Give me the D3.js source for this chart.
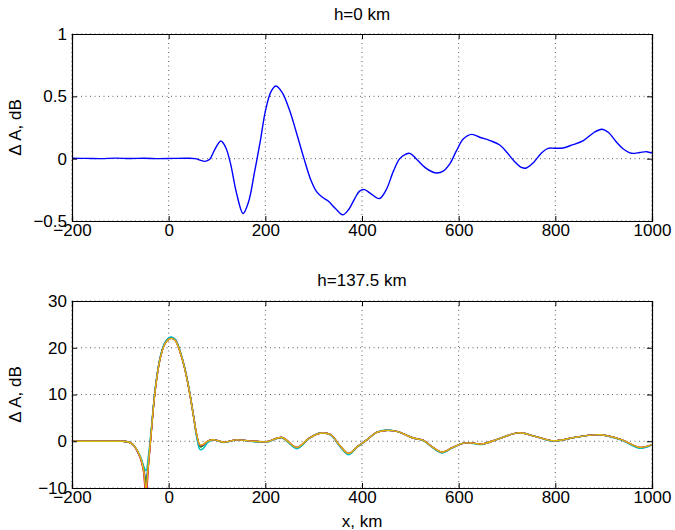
<!DOCTYPE html>
<html><head><meta charset="utf-8">
<script src="https://cdn.jsdelivr.net/npm/d3@7"></script>
<style>body{margin:0;background:#fff;}svg{display:block;font-family:"Liberation Sans",Arial,sans-serif;}</style>
</head><body>
<script>
// ---- data ----
const xTicks = [-200, 0, 200, 400, 600, 800, 1000];
const topYTicks = [-0.5, 0, 0.5, 1];
const botYTicks = [-10, 0, 10, 20, 30];
const topTitle = "h=0 km";
const botTitle = "h=137.5 km";

const topX = [-200,-170,-140,-110,-80,-50,-20,10,40,55,65,75,85,95,108,118,128,140,154,165,178,190,200,212,222,235,250,265,280,295,306,318,330,345,360,372,385,395,405,418,436,450,465,478,490,499,512,530,545,555,568,582,595,610,627,645,665,685,700,715,730,740,755,770,785,800,816,835,858,880,896,910,925,940,958,975,989,1000];
const topY = [0.003,0.002,0.0,0.004,0.001,0.003,0.0,0.002,0.003,0.0,-0.012,-0.022,-0.005,0.07,0.142,0.09,-0.04,-0.27,-0.44,-0.35,-0.1,0.15,0.38,0.54,0.583,0.53,0.39,0.2,0.0,-0.18,-0.265,-0.31,-0.34,-0.4,-0.45,-0.41,-0.32,-0.26,-0.248,-0.28,-0.32,-0.25,-0.1,0.0,0.035,0.043,0.0,-0.07,-0.105,-0.115,-0.1,-0.04,0.06,0.16,0.195,0.17,0.145,0.11,0.05,-0.02,-0.07,-0.075,-0.03,0.04,0.083,0.083,0.086,0.11,0.145,0.21,0.236,0.21,0.14,0.08,0.043,0.05,0.056,0.045];

const botX = [-200,-150,-100,-85,-75,-65,-58,-52,-47,-42,-36,-28,-18,-8,0,6,14,24,34,44,52,58,65,72,82,95,113,141,175,203,234,265,290,313,335,354,372,390,410,430,448,472,506,527,545,565,588,610,630,648,680,723,760,796,845,893,935,975,1000];
const botNames = ["s1","s2","s3","s4","s5","s6"];
const botColors = ["#0000ff","#00a000","#ff0000","#00bfbf","#bf00bf","#d8c000"];
const botS1 = [0,0,0,-0.1,-0.6,-2.0,-3.5,-5.6,-8.5,-4.6,2.2,11.0,17.7,21.0,22.0,22.2,21.7,19.1,15.3,10.1,5.1,1.3,-1.1,-0.8,0.1,0.3,-0.2,0.3,0.0,-0.1,0.8,-1.4,0.6,1.8,1.4,-1.0,-2.7,-1.2,0.3,1.9,2.3,2.1,0.7,0.2,-1.2,-2.4,-1.3,-0.4,-0.4,-0.6,0.4,1.8,1.0,0.1,0.9,1.4,0.4,-1.4,-0.7];
const botS2 = [0,0,0,-0.1,-0.6,-2.0,-3.6,-5.8,-9.2,-4.8,2.1,10.9,17.6,20.9,21.9,22.1,21.6,19.0,15.2,10.0,5.0,1.2,-1.2,-0.9,0.1,0.3,-0.2,0.3,0.0,-0.1,0.8,-1.4,0.6,1.7,1.4,-1.0,-2.7,-1.2,0.3,1.9,2.3,2.1,0.7,0.2,-1.2,-2.4,-1.3,-0.4,-0.4,-0.6,0.4,1.8,1.0,0.1,0.9,1.4,0.4,-1.4,-0.7];
const botS3 = [0,0,0,-0.1,-0.6,-2.1,-3.8,-6.5,-12.5,-5.5,1.8,10.7,17.5,20.8,21.8,22.0,21.5,19.0,15.2,10.0,5.0,1.4,-0.9,-0.7,0.1,0.3,-0.2,0.3,0.0,-0.1,0.8,-1.3,0.6,1.7,1.4,-0.9,-2.6,-1.2,0.3,1.9,2.3,2.1,0.7,0.2,-1.2,-2.3,-1.3,-0.4,-0.4,-0.6,0.4,1.8,1.0,0.1,0.9,1.4,0.4,-1.3,-0.7];
const botS4 = [0,0,0,-0.1,-0.6,-2.0,-3.4,-5.2,-6.3,-3.2,2.6,11.1,17.8,21.1,22.1,22.3,21.7,19.2,15.4,10.2,5.0,0.8,-1.8,-1.5,-0.2,0.3,-0.3,0.3,-0.1,-0.2,0.7,-1.6,0.5,1.8,1.3,-1.1,-2.9,-1.3,0.3,1.9,2.4,2.1,0.7,0.1,-1.3,-2.5,-1.4,-0.4,-0.5,-0.7,0.4,1.8,1.0,0.0,0.9,1.4,0.3,-1.5,-0.8];
const botS5 = [0,0,0,-0.1,-0.6,-2.1,-3.7,-6.2,-11.0,-5.2,1.9,10.8,17.5,20.8,21.8,22.0,21.5,19.0,15.2,10.0,5.0,1.4,-0.9,-0.7,0.1,0.3,-0.2,0.3,0.0,-0.1,0.8,-1.3,0.6,1.7,1.4,-0.9,-2.6,-1.2,0.3,1.9,2.3,2.1,0.7,0.2,-1.2,-2.3,-1.3,-0.4,-0.4,-0.6,0.4,1.8,1.0,0.1,0.9,1.4,0.4,-1.3,-0.7];
const botS6 = [0,0,0,-0.1,-0.6,-2.0,-3.6,-6.0,-10.3,-5.0,2.0,10.8,17.5,20.8,21.8,22.0,21.5,19.0,15.2,10.0,5.0,1.5,-0.8,-0.6,0.1,0.3,-0.2,0.3,0.0,-0.1,0.8,-1.3,0.6,1.7,1.4,-0.9,-2.6,-1.2,0.3,1.9,2.3,2.1,0.7,0.2,-1.2,-2.3,-1.3,-0.4,-0.4,-0.6,0.4,1.8,1.0,0.1,0.9,1.4,0.4,-1.3,-0.7];
const botSeries = [botS1, botS2, botS3, botS4, botS5, botS6];

// ---- layout ----
const W = 675, H = 530;
const L = 72, R = 652;
const svg = d3.select("body").append("svg").attr("width", W).attr("height", H);
const FS = 17;

function panel(opts) {
  const x = d3.scaleLinear().domain([-200, 1000]).range([L, R]);
  const y = d3.scaleLinear().domain(opts.ydom).range([opts.bottom, opts.top]);
  const g = svg.append("g");
  const cid = "clip" + opts.id;
  svg.append("clipPath").attr("id", cid).append("rect")
    .attr("x", L).attr("y", opts.top).attr("width", R - L).attr("height", opts.bottom - opts.top);
  // grid
  const grid = g.append("g").attr("stroke", "#333").attr("stroke-width", 0.8).attr("stroke-dasharray", "1,3.5");
  xTicks.forEach(t => grid.append("line").attr("x1", x(t)).attr("x2", x(t)).attr("y1", opts.top).attr("y2", opts.bottom));
  opts.yticks.forEach(t => grid.append("line").attr("y1", y(t)).attr("y2", y(t)).attr("x1", L).attr("x2", R));
  // lines
  const line = d3.line().curve(d3.curveCatmullRom.alpha(0.5)).x(d => x(d[0])).y(d => y(d[1]));
  const lg = g.append("g").attr("clip-path", `url(#${cid})`);
  opts.series.forEach((s, i) => {
    lg.append("path").datum(opts.xs.map((v, j) => [v, s[j]]))
      .attr("d", line).attr("fill", "none").attr("stroke", opts.colors[i]).attr("stroke-width", 1.4);
  });
  // axes
  const fmt = d3.format("~g");
  const ab = g.append("g").attr("transform", `translate(0,${opts.bottom})`)
    .call(d3.axisBottom(x).tickValues(xTicks).tickFormat(fmt).tickSize(-5).tickPadding(3));
  const at = g.append("g").attr("transform", `translate(0,${opts.top})`)
    .call(d3.axisTop(x).tickValues(xTicks).tickFormat("").tickSize(-5));
  const al = g.append("g").attr("transform", `translate(${L},0)`)
    .call(d3.axisLeft(y).tickValues(opts.yticks).tickFormat(fmt).tickSize(-5).tickPadding(5));
  const ar = g.append("g").attr("transform", `translate(${R},0)`)
    .call(d3.axisRight(y).tickValues(opts.yticks).tickFormat("").tickSize(-5));
  [ab, at, al, ar].forEach(a => {
    a.select(".domain").attr("stroke", "#000").attr("stroke-width", 1.2);
    a.selectAll(".tick line").attr("stroke", "#000");
    a.selectAll("text").attr("font-size", FS).attr("fill", "#000").attr("font-family", '"Liberation Sans", Arial, sans-serif');
  });
  // title
  g.append("text").attr("x", (L + R) / 2).attr("y", opts.titleY).attr("text-anchor", "middle")
    .attr("font-size", 17).text(opts.title);
  // y label
  g.append("text").attr("transform", `translate(21,${(opts.top + opts.bottom) / 2}) rotate(-90)`)
    .attr("text-anchor", "middle").attr("font-size", 17).text("Δ A, dB");
  return {x, y};
}

panel({id: "t", top: 34, bottom: 221, ydom: [-0.5, 1], yticks: topYTicks,
  xs: topX, series: [topY], colors: ["#0000ff"], title: topTitle, titleY: 20});
panel({id: "b", top: 301, bottom: 488, ydom: [-10, 30], yticks: botYTicks,
  xs: botX, series: botSeries, colors: botColors, title: botTitle, titleY: 286});

svg.append("text").attr("x", 362).attr("y", 527).attr("text-anchor", "middle")
  .attr("font-size", 17).text("x, km");
</script>
</body></html>
